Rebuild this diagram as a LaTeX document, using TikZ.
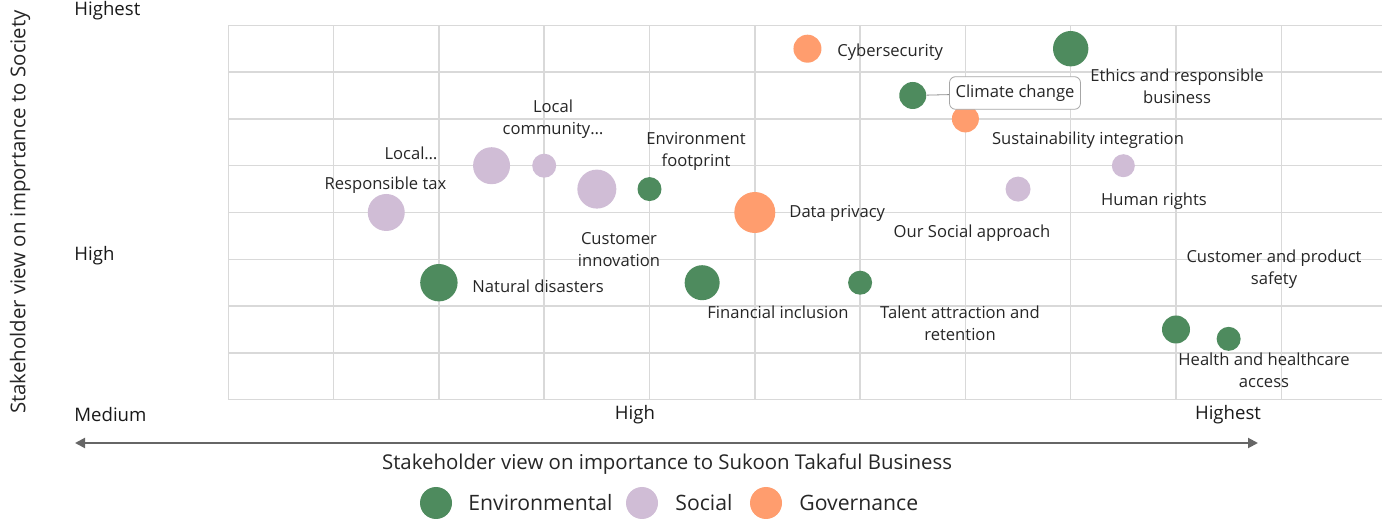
\documentclass[tikz,border=0pt]{standalone}
\usepackage{fontspec}
\setmainfont{Open Sans}
\usetikzlibrary{arrows.meta}
\definecolor{envgreen}{RGB}{78,139,94}
\definecolor{socpurple}{RGB}{208,189,214}
\definecolor{govorange}{RGB}{255,157,110}
\definecolor{gridgray}{RGB}{217,217,217}
\definecolor{axisgray}{RGB}{102,102,102}
\definecolor{txtgray}{RGB}{38,38,38}
\begin{document}
\begin{tikzpicture}
	[x=0.5pt, y=-0.5pt,
	every node/.style={text=txtgray, font=\fontsize{8.3}{11}\selectfont, align=center, inner sep=1pt},
	bubble/.style={circle, inner sep=0pt, minimum size=#1},
	ticklabel/.style={text=black!90, font=\fontsize{9.3}{10}\selectfont},
	axistitle/.style={font=\fontsize{10.2}{12}\selectfont},
	legendtext/.style={font=\fontsize{10.6}{12}\selectfont, anchor=west},
	callout/.style={draw=black!35, fill=white, rounded corners=3pt, inner xsep=3pt, inner ysep=4pt},
	]

	\useasboundingbox (0,0) rectangle (1382,523);

	% raster
	\foreach \k in {0,...,10}
		\draw[gridgray, line width=0.75pt] ({228.3+105.3*\k},25.3) -- ({228.3+105.3*\k},399.7);
	\foreach \j in {0,...,8}
		\draw[gridgray, line width=0.75pt] (228.3,{25.3+46.8*\j}) -- (1382,{25.3+46.8*\j});

	% Blasen in Datenkoordinaten
	\begin{scope}[shift={(228.3,399.7)}, x=52.65pt, y=23.4pt]
		\foreach \name/\xx/\yy/\col/\r in {
			cyber/5.5/7.5/govorange/14, ethics/8/7.5/envgreen/17.7,
			climate/6.5/6.5/envgreen/13.5, sustain/7/6/govorange/13.5,
			human/8.5/5/socpurple/11.5, social/7.5/4.5/socpurple/12.5,
			privacy/5/4/govorange/20.5, tax/1.5/4/socpurple/18.5,
			local/2.5/5/socpurple/18.5, community/3/5/socpurple/12,
			custinno/3.5/4.5/socpurple/19.5, envfoot/4/4.5/envgreen/12,
			natural/2/2.5/envgreen/18.7, financial/4.5/2.5/envgreen/17.5,
			talent/6/2.5/envgreen/12, safety/9/1.5/envgreen/14,
			health/9.5/1.3/envgreen/12}
			\node[bubble=\r pt, fill=\col] (\name) at (\xx,\yy) {};
	\end{scope}

	% Beschriftungen
	\node[anchor=west] (cyberLbl) at (835,52) {Cybersecurity};
	\node (ethicsLbl) at (1177,86) {Ethics and responsible\\business};
	\node[callout] (climateLbl) at (1015,93) {Climate change};
	\draw[black!45, line width=0.4pt] (climate) -- (climateLbl);
	\node (sustainLbl) at (1088,140) {Sustainability integration};
	\node (humanLbl) at (1154,201) {Human rights};
	\node (socialLbl) at (972,233) {Our Social approach};
	\node[anchor=west] (privacyLbl) at (787,213) {Data privacy};
	\node (communityLbl) at (553,119) {Local\\community…};
	\node (localLbl) at (411,153) {Local…};
	\node (taxLbl) at (385.5,185.5) {Responsible tax};
	\node (envfootLbl) at (696,151) {Environment\\footprint};
	\node (custinnoLbl) at (619,250) {Customer\\innovation};
	\node[anchor=west] (naturalLbl) at (470,286) {Natural disasters};
	\node (financialLbl) at (778,312) {Financial inclusion};
	\node (talentLbl) at (960,323) {Talent attraction and\\retention};
	\node (safetyLbl) at (1274,269) {Customer and product\\safety};
	\node (healthLbl) at (1264,370) {Health and healthcare\\access};

	% Achsen
	\node[ticklabel, anchor=west] (yHighest) at (72,11) {Highest};
	\node[ticklabel, anchor=west] (yHigh) at (72,256) {High};
	\node[ticklabel, anchor=west] (xMedium) at (72,415) {Medium};
	\node[ticklabel] (xHigh) at (635,415) {High};
	\node[ticklabel] (xHighest) at (1228,415) {Highest};
	\coordinate (arrL) at (75,443);
	\coordinate (arrR) at (1258,443);
	\draw[axisgray, line width=1pt, {Triangle[length=5pt,width=5pt]}-{Triangle[length=5pt,width=5pt]}] (arrL) -- (arrR);
	\node[axistitle] (xTitle) at (667,464) {Stakeholder view on importance to Sukoon Takaful Business};
	\node[axistitle, rotate=90] (yTitle) at (20,212) {Stakeholder view on importance to Society};

	% Legende
	\node[bubble=16pt, fill=envgreen] (envKey) at (436,503) {};
	\node[legendtext] (envTxt) at (466,503) {Environmental};
	\node[bubble=16pt, fill=socpurple] (socKey) at (642,503) {};
	\node[legendtext] (socTxt) at (673,503) {Social};
	\node[bubble=16pt, fill=govorange] (govKey) at (766,503) {};
	\node[legendtext] (govTxt) at (797,503) {Governance};
\end{tikzpicture}
\end{document}
